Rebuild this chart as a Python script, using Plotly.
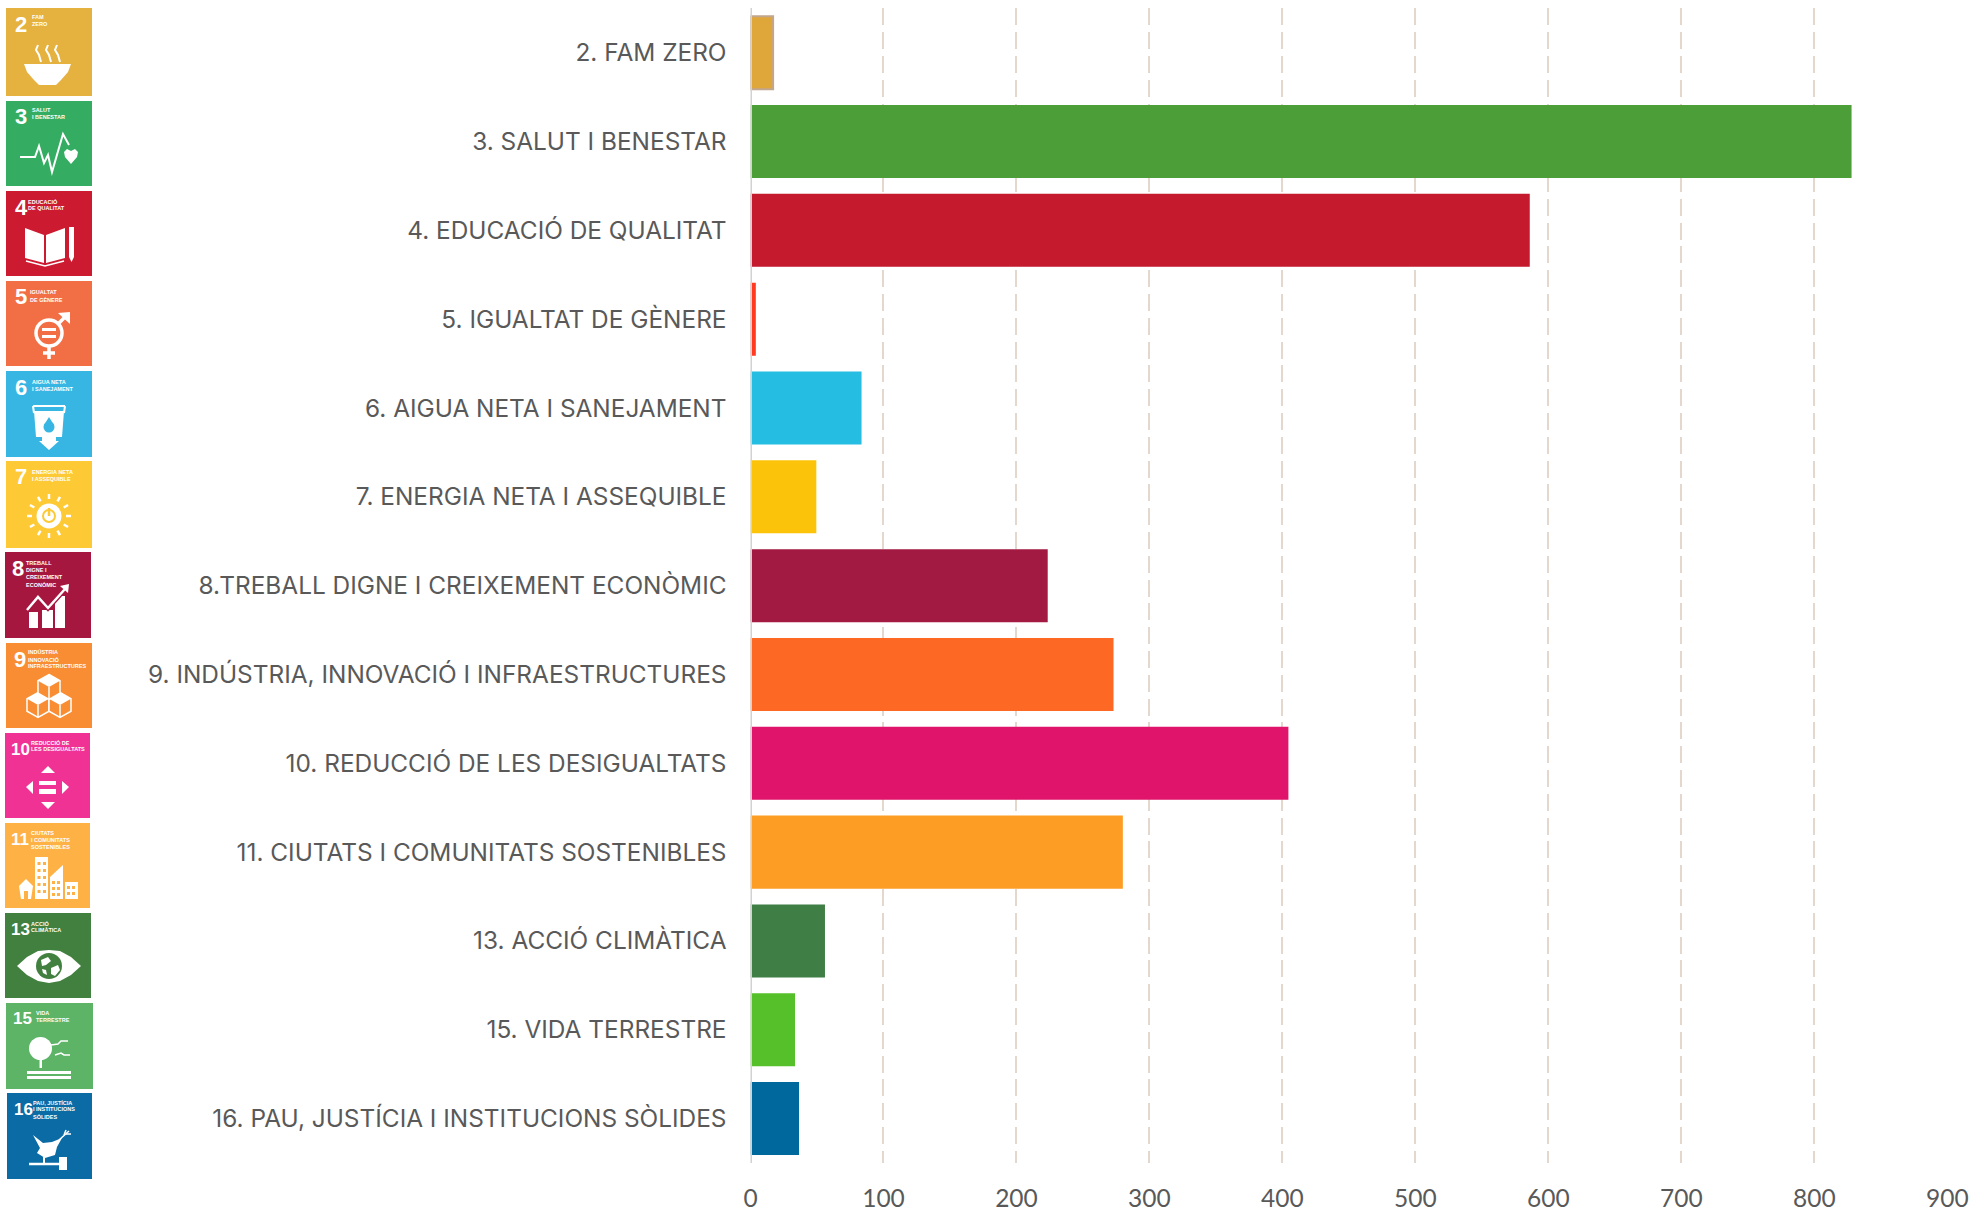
import math
import plotly.graph_objects as go

W, H = 1975, 1211

# ---------- chart data ----------
categories = ["2. FAM ZERO", "3. SALUT I BENESTAR", "4. EDUCACIÓ DE QUALITAT", "5. IGUALTAT DE GÈNERE",
              "6. AIGUA NETA I SANEJAMENT", "7. ENERGIA NETA I ASSEQUIBLE", "8.TREBALL DIGNE I CREIXEMENT ECONÒMIC",
              "9. INDÚSTRIA, INNOVACIÓ I INFRAESTRUCTURES", "10. REDUCCIÓ DE LES DESIGUALTATS",
              "11. CIUTATS I COMUNITATS SOSTENIBLES", "13. ACCIÓ CLIMÀTICA", "15. VIDA TERRESTRE",
              "16. PAU, JUSTÍCIA I INSTITUCIONS SÒLIDES"]
values = [17, 828, 586, 4, 83.5, 49.5, 223.5, 273, 404.5, 280, 56, 33.5, 36.5]
bar_colors = ["#dfa73a", "#4c9f38", "#c5192d", "#ff3a21", "#26bde2", "#fcc30b", "#a21942",
              "#fd6925", "#e0146a", "#fd9d24", "#3f7e44", "#56c02b", "#00689d"]
x_ticks = [0, 100, 200, 300, 400, 500, 600, 700, 800, 900]

# ---------- decorative SDG badges ----------
icon_numbers = ["2", "3", "4", "5", "6", "7", "8", "9", "10", "11", "13", "15", "16"]
icon_captions = [["FAM", "ZERO"], ["SALUT", "I BENESTAR"], ["EDUCACIÓ", "DE QUALITAT"], ["IGUALTAT", "DE GÈNERE"],
                 ["AIGUA NETA", "I SANEJAMENT"], ["ENERGIA NETA", "I ASSEQUIBLE"],
                 ["TREBALL", "DIGNE I", "CREIXEMENT", "ECONÒMIC"], ["INDÚSTRIA", "INNOVACIÓ", "INFRAESTRUCTURES"],
                 ["REDUCCIÓ DE", "LES DESIGUALTATS"], ["CIUTATS", "I COMUNITATS", "SOSTENIBLES"],
                 ["ACCIÓ", "CLIMÀTICA"], ["VIDA", "TERRESTRE"], ["PAU, JUSTÍCIA", "I INSTITUCIONS", "SÒLIDES"]]
icon_colors = ["#e5b13f", "#34ad62", "#cc1a30", "#f26f45", "#38b6e3", "#fdc935", "#a5173f",
               "#f88d33", "#ef3294", "#feb245", "#41803f", "#5db366", "#0a6ba5"]
icon_boxes = [(6, 8, 92, 96), (6, 101, 92, 186), (6, 191, 92, 276), (6, 281, 92, 366), (6, 371, 92, 457),
              (6, 461, 92, 548), (5, 552, 91, 638), (6, 643, 92, 728), (5, 733, 90, 818), (5, 823, 90, 908),
              (5, 913, 91, 998), (6, 1003, 93, 1089), (7, 1093, 92, 1179)]
caption_x = [25, 25, 21, 23, 25, 25, 20, 21, 25, 25, 25, 29, 25]
caption_y = [9, 9, 10, 11, 11, 11, 11, 9, 9, 10, 10, 10, 9]
number_x = [8, 8, 8, 8, 8, 8, 6, 7, 5, 5, 5, 6, 6]

shapes, annos = [], []


def px(x):
    return x / W


def py(y):
    return 1 - y / H


def poly(ox, oy, pts, fill=None, stroke=None, width=0, closed=True):
    d = "M" + " L".join(f"{px(ox + a):.5f},{py(oy + b):.5f}" for a, b in pts) + (" Z" if closed else "")
    shapes.append(dict(type="path", xref="paper", yref="paper", path=d, fillcolor=fill if fill else "rgba(0,0,0,0)",
                       line=dict(color=stroke if stroke else "rgba(0,0,0,0)", width=width)))


def circ(ox, oy, cx, cy, r, fill=None, stroke=None, width=0, ry=None):
    ry = r if ry is None else ry
    shapes.append(dict(type="circle", xref="paper", yref="paper",
                       x0=px(ox + cx - r), x1=px(ox + cx + r), y0=py(oy + cy + ry), y1=py(oy + cy - ry),
                       fillcolor=fill if fill else "rgba(0,0,0,0)",
                       line=dict(color=stroke if stroke else "rgba(0,0,0,0)", width=width)))


def rect(ox, oy, a, b, c, d, fill):
    poly(ox, oy, [(a, b), (c, b), (c, d), (a, d)], fill=fill)


def line(ox, oy, pts, width=2, color="white"):
    poly(ox, oy, pts, stroke=color, width=width, closed=False)


def cube(ox, oy, cx, cy, bg):
    w, h = 11, 12.5
    hexa = [(cx, cy - h), (cx + w, cy - h / 2), (cx + w, cy + h / 2), (cx, cy + h), (cx - w, cy + h / 2), (cx - w, cy - h / 2)]
    poly(ox, oy, hexa, fill=bg, stroke="white", width=1.5)
    poly(ox, oy, [(cx, cy - h), (cx + w, cy - h / 2), (cx, cy), (cx - w, cy - h / 2)], fill="white")
    line(ox, oy, [(cx, cy), (cx, cy + h)], 1.5)


def draw_glyph(i, ox, oy, c):
    if i == 0:
        poly(ox, oy, [(18, 56), (65, 56), (62, 64), (55, 72), (50, 77), (33, 77), (28, 72), (21, 64)], fill="white")
        for d in (0, 10, 19):
            line(ox, oy, [(32 + d, 37), (30 + d, 42), (33 + d, 47), (35 + d, 54)], 2)
    elif i == 1:
        line(ox, oy, [(14, 56), (29, 56), (33, 45), (38, 62), (42, 54), (46, 71), (57, 33), (63, 44)], 2)
        poly(ox, oy, [(58, 51), (61, 48), (65, 50), (69, 48), (72, 51), (71, 56), (65, 63), (59, 56)], fill="white")
    elif i == 2:
        poly(ox, oy, [(19, 37), (38, 44), (38, 72), (19, 67)], fill="white")
        poly(ox, oy, [(40, 44), (59, 37), (59, 67), (40, 72)], fill="white")
        line(ox, oy, [(20, 70), (39, 75), (58, 70)], 1.5)
        poly(ox, oy, [(63, 36), (68, 36), (68, 66), (65.5, 71), (63, 66)], fill="white")
    elif i == 3:
        circ(ox, oy, 43, 52, 13, stroke="white", width=3.5)
        rect(ox, oy, 36, 47, 50, 50, "white")
        rect(ox, oy, 36, 54, 50, 57, "white")
        line(ox, oy, [(52, 43), (62, 33)], 3.5)
        poly(ox, oy, [(52, 32), (64, 31), (64, 43)], fill="white")
        line(ox, oy, [(43, 65), (43, 78)], 3.5)
        line(ox, oy, [(37, 72), (49, 72)], 3.5)
    elif i == 4:
        line(ox, oy, [(27, 35), (59, 35)], 2)
        line(ox, oy, [(27, 35), (28, 42)], 2)
        line(ox, oy, [(59, 35), (58, 42)], 2)
        poly(ox, oy, [(28, 40), (58, 40), (56, 66), (50, 66), (50, 70), (53, 70), (43, 79), (33, 70), (36, 70), (36, 66), (30, 66)],
             fill="white")
        circ(ox, oy, 43, 56, 5.5, fill=c)
        poly(ox, oy, [(43, 46), (48, 54), (38, 54)], fill=c)
    elif i == 5:
        for k in range(12):
            t = math.radians(30 * k)
            line(ox, oy, [(43 + 17 * math.cos(t), 55 + 17 * math.sin(t)), (43 + 22 * math.cos(t), 55 + 22 * math.sin(t))], 2.5)
        circ(ox, oy, 43, 55, 12.5, fill="white")
        circ(ox, oy, 43, 55, 6, stroke=c, width=2)
        line(ox, oy, [(43, 47), (43, 55)], 2.5, c)
    elif i == 6:
        rect(ox, oy, 24, 60, 33, 76, "white")
        rect(ox, oy, 37, 58, 48, 76, "white")
        rect(ox, oy, 50, 44, 60, 76, "white")
        line(ox, oy, [(22, 58), (33, 45), (43, 56), (60, 37)], 5, c)
        line(ox, oy, [(22, 58), (33, 45), (43, 56), (60, 37)], 2.5)
        poly(ox, oy, [(55, 34), (64, 32), (63, 41)], fill="white")
    elif i == 7:
        cube(ox, oy, 32, 62, c)
        cube(ox, oy, 54, 62, c)
        cube(ox, oy, 43, 44, c)
    elif i == 8:
        poly(ox, oy, [(43, 33), (36, 40), (50, 40)], fill="white")
        poly(ox, oy, [(36, 69), (50, 69), (43, 76)], fill="white")
        poly(ox, oy, [(28, 48), (28, 61), (21, 54)], fill="white")
        poly(ox, oy, [(57, 48), (57, 61), (64, 54)], fill="white")
        rect(ox, oy, 34, 48, 51, 52, "white")
        rect(ox, oy, 34, 56, 51, 61, "white")
    elif i == 9:
        poly(ox, oy, [(14, 63), (21, 56), (28, 63), (26, 76), (16, 76)], fill="white")
        rect(ox, oy, 19, 68, 23, 76, c)
        rect(ox, oy, 30, 34, 43, 76, "white")
        poly(ox, oy, [(45, 76), (45, 54), (58, 42), (58, 76)], fill="white")
        rect(ox, oy, 60, 59, 73, 76, "white")
        for a in (32.5, 38):
            for b in (39, 46, 53, 60, 67):
                rect(ox, oy, a, b, a + 3, b + 3, c)
        for a in (47, 52):
            for b in (58, 64, 70):
                rect(ox, oy, a, b, a + 3, b + 3, c)
        for a in (62, 67):
            for b in (63, 69):
                rect(ox, oy, a, b, a + 3, b + 3, c)
    elif i == 10:
        poly(ox, oy, [(12, 53), (22, 44), (33, 38), (44, 37), (55, 38), (66, 44), (76, 53), (66, 62), (55, 68), (44, 70), (33, 68), (22, 62)],
             fill="white")
        circ(ox, oy, 44, 53, 13, fill=c)
        poly(ox, oy, [(36, 47), (43, 44), (46, 48), (41, 52), (37, 53)], fill="white")
        poly(ox, oy, [(46, 55), (53, 52), (55, 57), (50, 63), (46, 61)], fill="white")
        poly(ox, oy, [(37, 56), (41, 57), (42, 62), (38, 60)], fill="white")
    elif i == 11:
        circ(ox, oy, 34.5, 45.5, 11.5, fill="white")
        rect(ox, oy, 33.5, 56, 36, 65, "white")
        line(ox, oy, [(45, 42), (52, 41), (55, 38), (62, 38)], 1.5)
        line(ox, oy, [(49, 52), (55, 50), (58, 52), (64, 52)], 1.5)
        rect(ox, oy, 21, 68, 65, 71, "white")
        rect(ox, oy, 21, 73, 65, 76, "white")
    else:
        poly(ox, oy, [(26, 42), (36, 50), (45, 49), (55, 45), (50, 54), (48, 62), (38, 65), (30, 60), (33, 55)], fill="white")
        line(ox, oy, [(52, 47), (62, 38)], 1.5)
        line(ox, oy, [(57, 42), (59, 37)], 1.5)
        line(ox, oy, [(59, 41), (64, 41)], 1.5)
        line(ox, oy, [(22, 71), (52, 71)], 2.5)
        rect(ox, oy, 36, 64, 38, 71, "white")
        rect(ox, oy, 52, 64, 60, 77, "white")


for i, (box, color) in enumerate(zip(icon_boxes, icon_colors)):
    x0, y0, x1, y1 = box
    shapes.append(dict(type="rect", xref="paper", yref="paper", x0=px(x0), x1=px(x1), y0=py(y1), y1=py(y0),
                       fillcolor=color, line=dict(width=0)))
    draw_glyph(i, x0, y0, color)
    num = icon_numbers[i]
    annos.append(dict(xref="paper", yref="paper", x=px(x0 + number_x[i]), y=py(y0 + 16), xanchor="left", yanchor="middle",
                      text=f"<b>{num}</b>", showarrow=False, borderpad=0,
                      font=dict(family="Liberation Sans", size=22 if len(num) == 1 else 17, color="white")))
    for k, cap in enumerate(icon_captions[i]):
        annos.append(dict(xref="paper", yref="paper", x=px(x0 + caption_x[i]), y=py(y0 + caption_y[i] + 7 * k), xanchor="left",
                          yanchor="middle", text=f"<b>{cap}</b>", showarrow=False, borderpad=0,
                          font=dict(family="Liberation Sans", size=5.5, color="white")))

# axis rule along zero, above the bars
shapes.append(dict(type="line", xref="x", yref="paper", x0=0, x1=0, y0=py(1163), y1=py(8), layer="above",
                   line=dict(color="#d2d2d2", width=3)))

line_widths = [2] + [0] * (len(values) - 1)

fig = go.Figure(go.Bar(
    x=values, y=categories, orientation="h",
    marker=dict(color=bar_colors, line=dict(color="#c2a68e", width=line_widths)),
    hoverinfo="x+y",
))
fig.update_layout(
    width=W, height=H, margin=dict(l=0, r=0, t=0, b=0, autoexpand=False), autosize=False,
    paper_bgcolor="white", plot_bgcolor="white", showlegend=False, bargap=0.178,
    shapes=shapes, annotations=annos,
    xaxis=dict(domain=[750.5 / W, 1947.3 / W], range=[0, 900], tickvals=x_ticks, ticks="", showline=False, zeroline=False,
               automargin=False, showgrid=True, gridcolor="#e3d7ce", gridwidth=2, griddash="17px,6.8px", ticklabelstandoff=18,
               tickfont=dict(family="Lato", size=24.5, color="#595959")),
    yaxis=dict(domain=[1 - 1163 / H, 1 - 8.3 / H], autorange=False, range=[12.5, -0.5], type="category", categoryorder="array",
               automargin=False, categoryarray=categories, tickvals=categories, ticks="", showline=False, showgrid=False, zeroline=False,
               ticklabelstandoff=23, tickfont=dict(family="Inter", size=24.4, color="#595959")),
)
fig.write_html("out.html", config={"displayModeBar": False},
               post_script="document.body.style.margin='0';document.body.style.overflow='hidden';")
